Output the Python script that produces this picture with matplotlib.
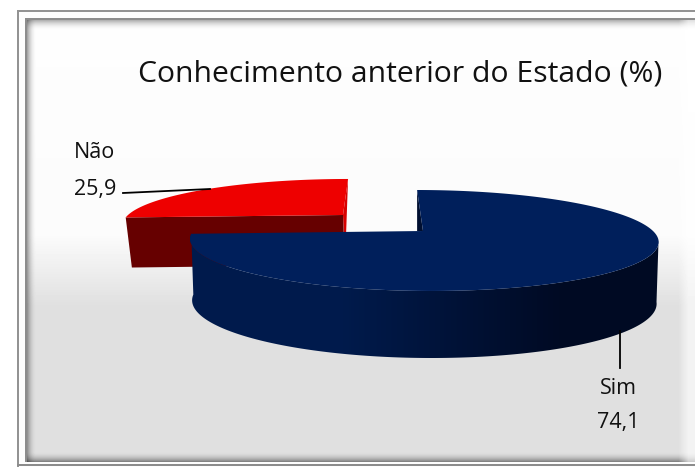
"""3D-style pie: Conhecimento anterior do Estado (%)"""
import numpy as np
import matplotlib
matplotlib.use("Agg")
import matplotlib.pyplot as plt

W, H = 695, 467

title = "Conhecimento anterior do Estado (%)"
categories = ["Sim", "Não"]
values = [74.1, 25.9]
value_labels = ["74,1", "25,9"]

FONT = "Open Sans"
K = 0.188  # perspective strength


def project(theta, ax0, ay0, rx, ry, shear):
    # theta clockwise from 12 o'clock, degrees
    t = np.radians(theta)
    xs, zs = np.sin(t), np.cos(t)
    w = 1 + K * zs
    return ax0 + (rx * xs + shear * zs) / w, ay0 - ry * zs / w


# --- panel background ---
yy = np.arange(H)[:, None]
xx = np.arange(W)[None, :]
grad = np.interp(yy, [0, 235, 305, H], [0.995, 0.985, 0.878, 0.878]) * np.ones((H, W))
# inner shadow of the frame
grad *= 1 - 0.42 * np.clip((36 - xx) / 10, 0, 1) ** 2
grad *= 1 - 0.30 * np.clip((30 - yy) / 10, 0, 1) ** 2
grad *= 1 - 0.50 * np.clip((yy - 451) / 11, 0, 1) ** 2
grad = np.where(xx > 678, grad + (1 - grad) * np.clip((xx - 678) / 10, 0, 1) * 0.6, grad)
grad[:18, :] = 0.99
grad[:, :25] = 0.99
grad[462:, :] = 0.99
grad[:10, :] = 1
grad[:, :17] = 1
grad[10:12, 17:] = 0.58
grad[10:, 17:19] = 0.58
grad[18:20, 25:] = 0.55
grad[18:462, 25:27] = 0.55
grad[464:466, 17:] = 0.55

fig = plt.figure(figsize=(W / 100, H / 100), dpi=100)
ax = fig.add_axes([0, 0, 1, 1])
ax.imshow(grad, cmap="gray", vmin=0, vmax=1, extent=(0, W, H, 0), aspect="auto", zorder=0)

sim_end = 360 * values[0] / sum(values)

# --- Não slice (pulled out, sits behind) ---
nao_top = (343, 215, 215, 42.8, 6)
nao_bot = (345, 265, 214, 44, 3)
th = np.linspace(sim_end, 360, 80)
x_top, y_top = project(th, *nao_top)
x_bot, y_bot = project(th, *nao_bot)
ax.fill([x_top[-1], nao_top[0], nao_top[0] + 1, x_top[-1] - 2],
        [y_top[-1], nao_top[1], nao_top[1] + 22, y_top[-1] + 56],
        color="#d80000", lw=0, zorder=1)
ax.fill([x_top[0], nao_top[0], nao_bot[0], x_bot[0] + 3],
        [y_top[0], nao_top[1], nao_bot[1], y_bot[0]],
        color="#660000", lw=0, zorder=2)
ax.fill(np.r_[nao_top[0], x_top], np.r_[nao_top[1], y_top], color="#ee0000", lw=0, zorder=3)

# --- Sim slice ---
sim_top = (423, 231, 230, 48.7, -7)
sim_bot = (423, 291.5, 228, 54, -7)
x_t0, y_t0 = project(np.array([0.0]), *sim_top)
ax.fill([x_t0[0], sim_top[0], x_t0[0]], [y_t0[0], sim_top[1], sim_top[1]],
        color="#000f30", lw=0, zorder=4)

# side wall, from the right silhouette point round to the slice end
th = np.linspace(np.degrees(np.arccos(-K)), sim_end, 240)
x_top, y_top = project(th, *sim_top)
x_bot, y_bot = project(th, *sim_bot)
wall = ax.fill(np.r_[x_top, x_bot[::-1]], np.r_[y_top, y_bot[::-1]], color="none", lw=0, zorder=5)[0]
shade = np.interp(np.arange(W), [0, 340, 560, W], [0, 0, 1, 1])[None, :, None]
rgb = (1 - shade) * np.array([0.0, 0.105, 0.30]) + shade * np.array([0.0, 0.04, 0.14])
im = ax.imshow(rgb, extent=(0, W, H, 0), aspect="auto", zorder=5)
im.set_clip_path(wall)

th = np.linspace(0, sim_end, 300)
x_top, y_top = project(th, *sim_top)
ax.fill(np.r_[sim_top[0], x_top], np.r_[sim_top[1], y_top], color="#001f5b", lw=0, zorder=6)

# --- leader lines and labels ---
ax.plot([123, 210], [193, 189], color="black", lw=1.3, zorder=7)
ax.plot([620, 620], [331, 368], color="black", lw=1.3, zorder=7)

ax.text(400, 74, title, ha="center", va="center", fontsize=21.7, family=FONT, color="#111111")
ax.text(95, 152.5, categories[1], ha="center", va="center", fontsize=15.5, family=FONT, color="#111111")
ax.text(95, 190, value_labels[1], ha="center", va="center", fontsize=15.5, family=FONT, color="#111111")
ax.text(618, 388.5, categories[0], ha="center", va="center", fontsize=15.5, family=FONT, color="#111111")
ax.text(618, 422.5, value_labels[0], ha="center", va="center", fontsize=15.5, family=FONT, color="#111111")

ax.set_xlim(0, W)
ax.set_ylim(H, 0)
ax.axis("off")

plt.savefig("out.png", dpi=100)
plt.close()
